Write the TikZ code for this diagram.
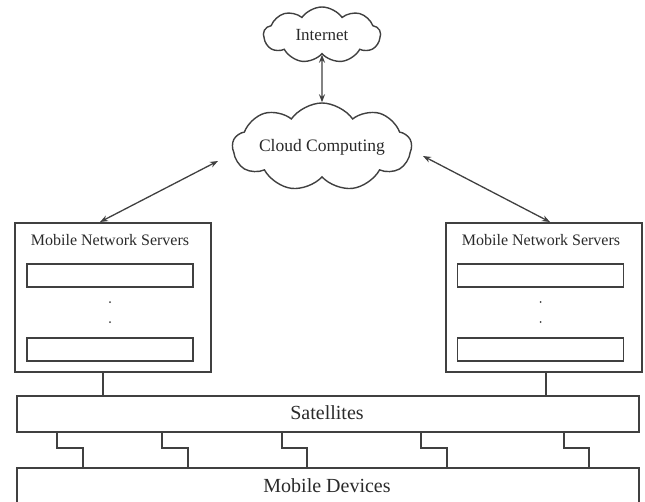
\documentclass[tikz,border=0pt]{standalone}
\usepackage{fontspec}
\setmainfont{Liberation Serif}
\usetikzlibrary{shapes.symbols,arrows.meta}
\definecolor{ln}{HTML}{404040}
\definecolor{tx}{HTML}{2A2A2A}
\begin{document}
\begin{tikzpicture}[x=1pt,y=-1pt,
  every node/.style={text=tx},
  cloudbox/.style={cloud, cloud puffs=9, cloud puff arc=110, cloud ignores aspect, draw=ln, line width=1.4pt, inner sep=0pt},
  boxx/.style={draw=ln, line width=1.5pt, inner sep=0pt, anchor=north west},
  slot/.style={draw=ln, line width=1.5pt, inner sep=0pt, minimum width=166pt, minimum height=23pt},
  wire/.style={draw=ln, line width=1.3pt},
  arr/.style={draw=ln, line width=1.3pt, {Stealth[length=8pt,width=6pt]}-{Stealth[length=8pt,width=6pt]}},
  ttl/.style={font=\fontsize{16}{18}\selectfont}
]
\useasboundingbox (0,0) rectangle (645,501);
% clouds
\node[cloudbox, minimum width=117pt, minimum height=56pt, font=\fontsize{17}{19}\selectfont] (inet) at (322,35) {Internet};
\node[cloudbox, minimum width=179pt, minimum height=88pt, font=\fontsize{17.5}{20}\selectfont] (cc) at (322,147) {Cloud Computing};
\draw[arr] (inet.south) -- (cc.north);
% server boxes
\node[boxx, minimum width=196pt, minimum height=149pt] (ls) at (14,222) {};
\node[boxx, minimum width=196pt, minimum height=149pt] (rs) at (445,222) {};
\node[ttl] (lt) at (110,240) {Mobile Network Servers};
\node[ttl] (rt) at (541,240) {Mobile Network Servers};
\node[slot] (l1) at (110,275.5) {};
\node[slot] (l2) at (110,349.5) {};
\node[slot] (r1) at (540.5,275.5) {};
\node[slot] (r2) at (540.5,349.5) {};
\fill[ln] (110,302) circle (1pt) (110,322) circle (1pt);
\fill[ln] (540.5,302) circle (1pt) (540.5,322) circle (1pt);
% arrows cloud <-> servers
\coordinate (cl) at (218,161);
\coordinate (cr) at (423,156);
\draw[arr] (ls.north -| 100,0) -- (cl);
\draw[arr] (rs.north -| 550,0) -- (cr);
% satellites and devices
\node[boxx, minimum width=622pt, minimum height=36pt] (sat) at (16,395) {};
\node[font=\fontsize{20}{22}\selectfont] (satt) at (327,413) {Satellites};
\node[boxx, minimum width=622pt, minimum height=50pt] (dev) at (16,467) {};
\node[font=\fontsize{20}{22}\selectfont] (devt) at (327,486) {Mobile Devices};
\draw[wire] (ls.south -| 103,0) -- (sat.north -| 103,0);
\draw[wire] (rs.south -| 546,0) -- (sat.north -| 546,0);
\foreach \a/\b in {57/83,162/188,282/307,421/447,564/589}{
  \draw[wire] (sat.south -| \a,0) -- (\a,448) -- (\b,448) -- (dev.north -| \b,0);
}
\end{tikzpicture}
\end{document}
